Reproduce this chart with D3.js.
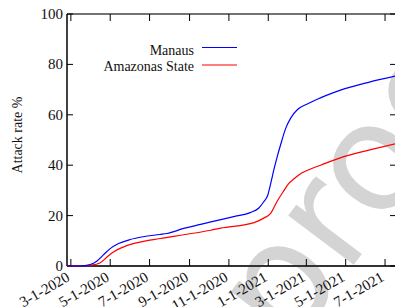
<!DOCTYPE html>
<html><head><meta charset="utf-8">
<script src="https://cdn.jsdelivr.net/npm/d3@7"></script>
<style>body{margin:0;background:#fff}svg{display:block}text{font-family:"Liberation Serif","Times New Roman",serif}</style>
</head><body><svg id="c" width="395" height="307"></svg>
<script>
const xTicks = ["2020-03-01","2020-05-01","2020-07-01","2020-09-01","2020-11-01","2021-01-01","2021-03-01","2021-05-01","2021-07-01"];
const xTickLabels = ["3-1-2020","5-1-2020","7-1-2020","9-1-2020","11-1-2020","1-1-2021","3-1-2021","5-1-2021","7-1-2021"];
const yTicks = [0,20,40,60,80,100];
const seriesNames = ["Manaus","Amazonas State"];
const manausDates = ["2020-02-24","2020-03-15","2020-03-31","2020-04-10","2020-04-20","2020-05-01","2020-05-14","2020-06-01","2020-06-21","2020-07-17","2020-07-28","2020-08-23","2020-09-18","2020-10-04","2020-11-10","2020-12-04","2020-12-17","2020-12-25","2020-12-31","2021-01-05","2021-01-10","2021-01-15","2021-01-20","2021-01-28","2021-02-05","2021-02-15","2021-02-20","2021-02-28","2021-03-08","2021-03-18","2021-03-31","2021-04-23","2021-06-04","2021-07-18"];
const manausValues = [0,0,0.6,1.9,4.3,6.9,8.9,10.5,11.6,12.5,12.9,14.9,16.5,17.5,19.7,21.2,22.9,25.5,28,33,38.5,43.5,48,54.6,58.8,62,63.0,64.0,65.0,66.2,67.6,69.8,72.8,75.4];
const amazonasDates = ["2020-02-24","2020-03-15","2020-03-31","2020-04-15","2020-04-26","2020-05-06","2020-05-22","2020-06-11","2020-07-17","2020-08-28","2020-10-04","2020-10-19","2020-12-10","2020-12-25","2021-01-05","2021-01-15","2021-01-26","2021-02-01","2021-02-11","2021-02-21","2021-03-03","2021-03-23","2021-04-28","2021-06-09","2021-07-18"];
const amazonasValues = [0,0,0.3,1.2,3.6,5.6,7.6,9.2,10.9,12.6,14.2,15.0,17.2,19.0,21.0,25.8,30.2,32.5,34.8,36.8,38.0,40.0,43.4,46.2,48.6];
const watermark = "proof";

const svg = d3.select("#c");
const parse = d3.utcParse("%Y-%m-%d");
const L=67, R=396, T=14, B=266;
const x = d3.scaleUtc().domain([parse("2020-02-24"), parse("2021-07-18")]).range([L, R]);
const y = d3.scaleLinear().domain([0,100]).range([B, T]);

const fs = 150, ang = -53;
const wm = svg.append("text").style("font-family","'DejaVu Sans',sans-serif").style("font-size",fs+"px")
  .attr("fill","#d4d4d4").text(watermark);
(function(){
  const ext = wm.node().getExtentOfChar(2);
  const along = ext.x + ext.width/2, upd = 0.27*fs;
  const r = ang*Math.PI/180, u=[Math.cos(r),Math.sin(r)], up=[Math.sin(r),-Math.cos(r)];
  const tx = 376 - along*u[0] - upd*up[0], ty = 168 - along*u[1] - upd*up[1];
  wm.attr("transform",`translate(${tx},${ty}) rotate(${ang})`);
})();

const line = d3.line().x(d=>x(d[0])).y(d=>y(d[1])).curve(d3.curveMonotoneX);
const m = manausDates.map((d,i)=>[parse(d), manausValues[i]]);
const a = amazonasDates.map((d,i)=>[parse(d), amazonasValues[i]]);

const g = svg.append("g");
g.append("line").attr("x1",L).attr("x2",R).attr("y1",T).attr("y2",T).attr("stroke","#444").attr("stroke-width",1.5);
g.append("line").attr("x1",R).attr("x2",R).attr("y1",T).attr("y2",B).attr("stroke","#000").attr("stroke-width",1);
g.append("line").attr("x1",L).attr("x2",L).attr("y1",T).attr("y2",B).attr("stroke","#000").attr("stroke-width",1.5);
g.append("line").attr("x1",L).attr("x2",R).attr("y1",B).attr("y2",B).attr("stroke","#333").attr("stroke-width",2);

const xt = xTicks.map(parse);
xt.forEach((d,i)=>{
  const px = x(d);
  g.append("line").attr("x1",px).attr("x2",px).attr("y1",B).attr("y2",B-7).attr("stroke","#000");
  g.append("line").attr("x1",px).attr("x2",px).attr("y1",T).attr("y2",T+7).attr("stroke","#000");
  g.append("text").attr("transform",`translate(${px},${B+14}) rotate(-30)`)
   .attr("text-anchor","end").style("font-size","15px").attr("fill","#111").text(xTickLabels[i]);
});
yTicks.forEach(v=>{
  const py = y(v);
  g.append("line").attr("x1",L).attr("x2",L+6).attr("y1",py).attr("y2",py).attr("stroke","#000");
  g.append("line").attr("x1",R).attr("x2",R-6).attr("y1",py).attr("y2",py).attr("stroke","#000");
  g.append("text").attr("x",L-4).attr("y",py+5).attr("text-anchor","end").style("font-size","15px").attr("fill","#111").text(v);
});

svg.append("path").datum(a).attr("d",line).attr("fill","none").attr("stroke","#ff0000").attr("stroke-width",1.2);
svg.append("path").datum(m).attr("d",line).attr("fill","none").attr("stroke","#0000ff").attr("stroke-width",1.2);

svg.append("text").attr("transform","translate(22,135) rotate(-90)").attr("text-anchor","middle")
  .style("font-size","14px").attr("fill","#111").text("Attack rate %");

const leg = [{n:seriesNames[0],c:"#0000ff",ty:55,ly:47.5},{n:seriesNames[1],c:"#ff0000",ty:71,ly:65}];
leg.forEach(l=>{
  svg.append("text").attr("x",194).attr("y",l.ty).attr("text-anchor","end").style("font-size","14px").attr("fill","#111").text(l.n);
  svg.append("line").attr("x1",202).attr("x2",237).attr("y1",l.ly).attr("y2",l.ly).attr("stroke",l.c).attr("stroke-width",1.2);
});
</script></body></html>
